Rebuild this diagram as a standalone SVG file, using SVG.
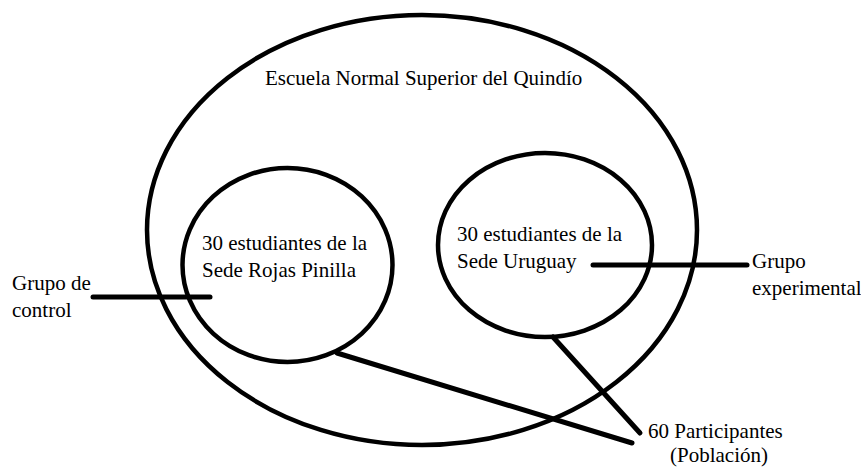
<svg xmlns="http://www.w3.org/2000/svg" width="861" height="470" viewBox="0 0 861 470">
<style>
.shape{fill:none;stroke:#000;stroke-width:4.5}
.conn{stroke:#000;stroke-width:5;stroke-linecap:round;fill:none}
.lbl{font-family:'Liberation Serif','Times New Roman','DejaVu Serif',serif;font-size:21px;fill:#000}
</style>
<rect width="861" height="470" fill="#fff"/>
<g id="escuela">
<ellipse class="shape" cx="422" cy="230" rx="275" ry="215"/>
<text class="lbl" font-family="Liberation Serif, serif" x="265" y="85">Escuela Normal Superior del Quindío</text>
</g>
<g id="sede-rojas">
<ellipse class="shape" cx="287.5" cy="265" rx="105" ry="97"/>
<text class="lbl" font-family="Liberation Serif, serif" x="202" y="250">30 estudiantes de la</text>
<text class="lbl" font-family="Liberation Serif, serif" x="202" y="277">Sede Rojas Pinilla</text>
</g>
<g id="sede-uruguay">
<ellipse class="shape" cx="545" cy="245" rx="107" ry="92"/>
<text class="lbl" font-family="Liberation Serif, serif" x="457" y="241">30 estudiantes de la</text>
<text class="lbl" font-family="Liberation Serif, serif" x="457" y="268">Sede Uruguay</text>
</g>
<g id="connectors">
<line class="conn" x1="93" y1="297" x2="210" y2="297"/>
<line class="conn" x1="593" y1="265" x2="747" y2="265"/>
<line class="conn" x1="337" y1="353" x2="632" y2="443"/>
<line class="conn" x1="553" y1="337" x2="640" y2="433"/>
</g>
<g id="grupo-control">
<text class="lbl" font-family="Liberation Serif, serif" x="12" y="290">Grupo de</text>
<text class="lbl" font-family="Liberation Serif, serif" x="12" y="317">control</text>
</g>
<g id="grupo-experimental">
<text class="lbl" font-family="Liberation Serif, serif" x="752" y="268">Grupo</text>
<text class="lbl" font-family="Liberation Serif, serif" x="752" y="295">experimental</text>
</g>
<g id="participantes">
<text class="lbl" font-family="Liberation Serif, serif" x="648" y="438">60 Participantes</text>
<text class="lbl" font-family="Liberation Serif, serif" x="670" y="462">(Población)</text>
</g>
</svg>
